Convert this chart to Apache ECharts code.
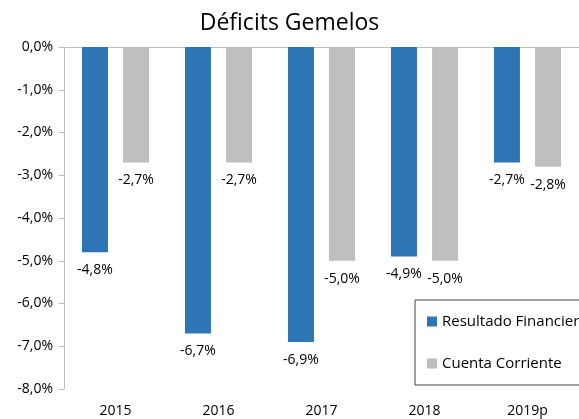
<!DOCTYPE html>
<html>
<head>
<meta charset="utf-8">
<script src="https://cdn.jsdelivr.net/npm/echarts@6/dist/echarts.min.js"></script>
<style>
  html, body { margin: 0; padding: 0; background: #fff; }
  #chart { width: 579px; height: 419px; }
</style>
</head>
<body>
<div id="chart"></div>
<script>
// datos
var years = ['2015', '2016', '2017', '2018', '2019p'];
var resultadoFinanciero = [-4.8, -6.7, -6.9, -4.9, -2.7];
var cuentaCorriente = [-2.7, -2.7, -5.0, -5.0, -2.8];

var fontFam = '"Open Sans", "Noto Sans", sans-serif';

function pct(v) {
    return v.toFixed(1).replace('.', ',') + '%';
}

var myChart = echarts.init(document.getElementById('chart'));
myChart.setOption({
    animation: false,
    title: {
        text: 'Déficits Gemelos',
        left: 'center',
        top: 7,
        textStyle: { fontFamily: fontFam, fontSize: 23, fontWeight: 'normal', color: '#000' }
    },
    grid: { left: 64, top: 47, width: 525, height: 342 },
    legend: {
        orient: 'vertical',
        left: 415,
        top: 300,
        padding: [14, 60, 14, 12],
        itemGap: 27,
        itemWidth: 10,
        itemHeight: 10,
        icon: 'rect',
        borderColor: '#444',
        borderWidth: 1,
        textStyle: { fontFamily: fontFam, fontSize: 15, color: '#000' },
        data: ['Resultado Financiero', 'Cuenta Corriente']
    },
    xAxis: [
        {
            type: 'category',
            data: years,
            position: 'bottom',
            axisLine: { show: false },
            axisTick: { show: false },
            axisLabel: { fontFamily: fontFam, fontSize: 14, color: '#000', margin: 15 }
        },
        {
            type: 'category',
            data: years,
            position: 'top',
            axisLine: { lineStyle: { color: '#bfbfbf' } },
            axisTick: { inside: true, length: 5, lineStyle: { color: '#bfbfbf' } },
            axisLabel: { show: false }
        }
    ],
    yAxis: {
        type: 'value',
        min: -8,
        max: 0,
        interval: 1,
        splitLine: { show: false },
        axisLine: { show: true, lineStyle: { color: '#bfbfbf' } },
        axisTick: { show: true, length: 5, lineStyle: { color: '#bfbfbf' } },
        axisLabel: {
            fontFamily: fontFam, fontSize: 14, color: '#000', margin: 11,
            formatter: function (v) { return pct(v); }
        }
    },
    series: [
        {
            name: 'Resultado Financiero',
            type: 'bar',
            data: resultadoFinanciero,
            barWidth: 26,
            barGap: '58%',
            itemStyle: { color: '#2e75b6' },
            label: {
                show: true, position: 'bottom', distance: 11,
                fontFamily: fontFam, fontSize: 14, color: '#000',
                formatter: function (p) { return pct(p.value); }
            }
        },
        {
            name: 'Cuenta Corriente',
            type: 'bar',
            data: cuentaCorriente,
            barWidth: 26,
            itemStyle: { color: '#bfbfbf' },
            label: {
                show: true, position: 'bottom', distance: 11,
                fontFamily: fontFam, fontSize: 14, color: '#000',
                formatter: function (p) { return pct(p.value); }
            }
        }
    ]
});
</script>
</body>
</html>
